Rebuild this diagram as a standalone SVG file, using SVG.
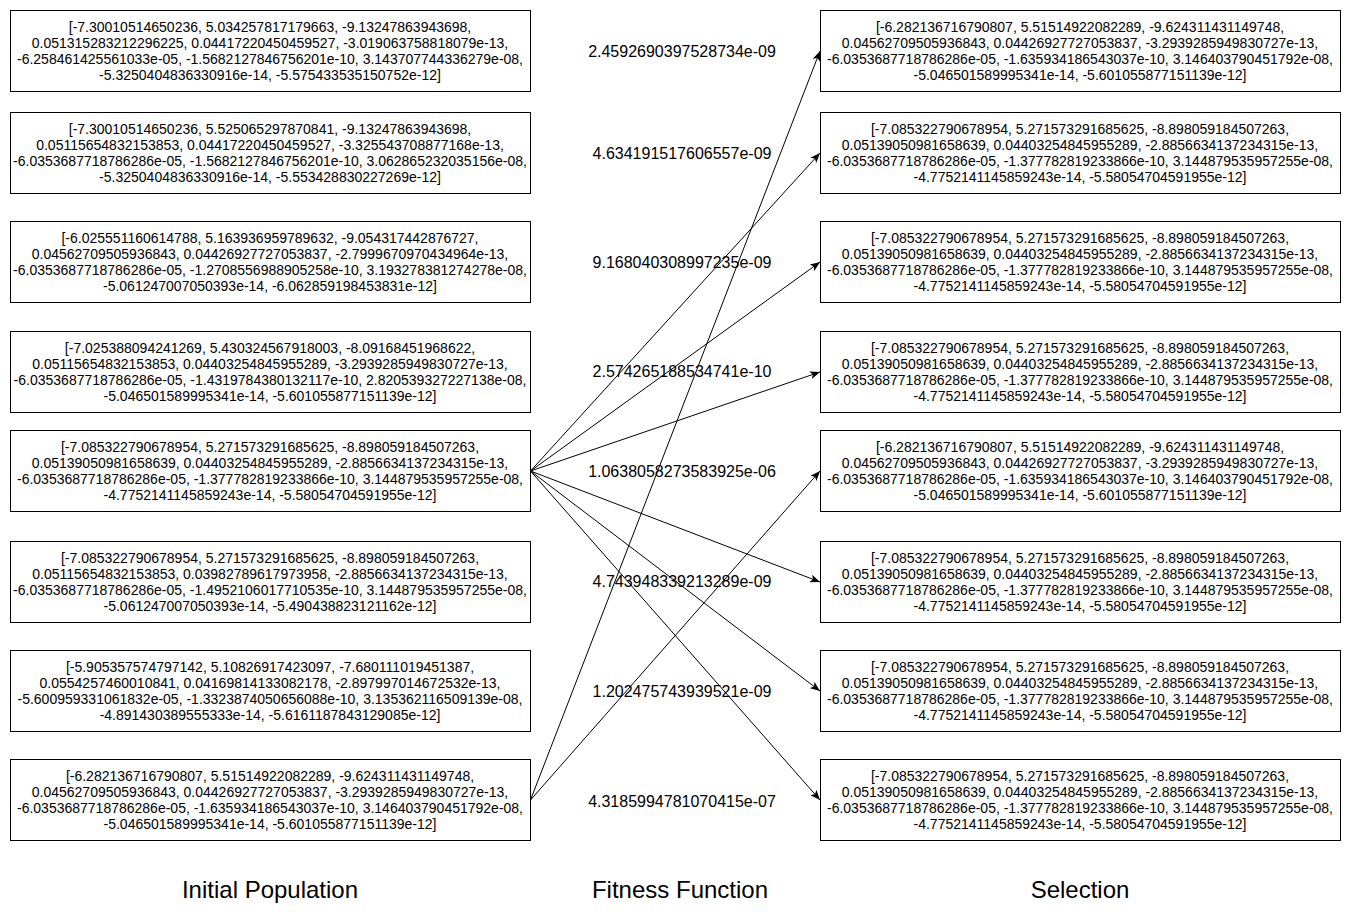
<svg xmlns="http://www.w3.org/2000/svg" width="1351" height="915" viewBox="0 0 1351 915">
<style>
.box{fill:#fff;stroke:#000;stroke-width:1}
.t{font-family:"Liberation Sans",Arial,sans-serif;font-size:14px;fill:#000;text-anchor:middle}
.f{font-family:"Liberation Sans",Arial,sans-serif;font-size:16px;fill:#000;text-anchor:middle}
.h{font-family:"Liberation Sans",Arial,sans-serif;font-size:24px;fill:#000;text-anchor:middle}
.c{stroke:#000;stroke-width:1;fill:none;marker-end:url(#a)}
</style>
<defs>
<marker id="a" viewBox="0 0 10 8" refX="10" refY="4" markerWidth="10" markerHeight="8" markerUnits="userSpaceOnUse" orient="auto">
<path d="M0,0 L10,4 L0,8 L2.5,4 z" fill="#000"/>
</marker>
</defs>
<rect width="1351" height="915" fill="#fff"/>

<g id="left1"><rect class="box" x="10.5" y="10.5" width="520" height="81"/>
<text class="t" x="270" y="32">[-7.30010514650236, 5.034257817179663, -9.13247863943698,</text>
<text class="t" x="270" y="48">0.051315283212296225, 0.04417220450459527, -3.019063758818079e-13,</text>
<text class="t" x="270" y="64">-6.258461425561033e-05, -1.5682127846756201e-10, 3.143707744336279e-08,</text>
<text class="t" x="270" y="80">-5.3250404836330916e-14, -5.575433535150752e-12]</text></g>

<g id="left2"><rect class="box" x="10.5" y="112.5" width="520" height="81"/>
<text class="t" x="270" y="134">[-7.30010514650236, 5.525065297870841, -9.13247863943698,</text>
<text class="t" x="270" y="150">0.05115654832153853, 0.04417220450459527, -3.325543708877168e-13,</text>
<text class="t" x="270" y="166">-6.0353687718786286e-05, -1.5682127846756201e-10, 3.062865232035156e-08,</text>
<text class="t" x="270" y="182">-5.3250404836330916e-14, -5.553428830227269e-12]</text></g>

<g id="left3"><rect class="box" x="10.5" y="221.5" width="520" height="81"/>
<text class="t" x="270" y="243">[-6.025551160614788, 5.163936959789632, -9.054317442876727,</text>
<text class="t" x="270" y="259">0.04562709505936843, 0.04426927727053837, -2.7999670970434964e-13,</text>
<text class="t" x="270" y="275">-6.0353687718786286e-05, -1.2708556988905258e-10, 3.193278381274278e-08,</text>
<text class="t" x="270" y="291">-5.061247007050393e-14, -6.062859198453831e-12]</text></g>

<g id="left4"><rect class="box" x="10.5" y="331.5" width="520" height="81"/>
<text class="t" x="270" y="353">[-7.025388094241269, 5.430324567918003, -8.09168451968622,</text>
<text class="t" x="270" y="369">0.05115654832153853, 0.04403254845955289, -3.2939285949830727e-13,</text>
<text class="t" x="270" y="385">-6.0353687718786286e-05, -1.4319784380132117e-10, 2.820539327227138e-08,</text>
<text class="t" x="270" y="401">-5.046501589995341e-14, -5.601055877151139e-12]</text></g>

<g id="left5"><rect class="box" x="10.5" y="430.5" width="520" height="81"/>
<text class="t" x="270" y="452">[-7.085322790678954, 5.271573291685625, -8.898059184507263,</text>
<text class="t" x="270" y="468">0.05139050981658639, 0.04403254845955289, -2.8856634137234315e-13,</text>
<text class="t" x="270" y="484">-6.0353687718786286e-05, -1.377782819233866e-10, 3.144879535957255e-08,</text>
<text class="t" x="270" y="500">-4.7752141145859243e-14, -5.58054704591955e-12]</text></g>

<g id="left6"><rect class="box" x="10.5" y="541.5" width="520" height="81"/>
<text class="t" x="270" y="563">[-7.085322790678954, 5.271573291685625, -8.898059184507263,</text>
<text class="t" x="270" y="579">0.05115654832153853, 0.03982789617973958, -2.8856634137234315e-13,</text>
<text class="t" x="270" y="595">-6.0353687718786286e-05, -1.4952106017710535e-10, 3.144879535957255e-08,</text>
<text class="t" x="270" y="611">-5.061247007050393e-14, -5.490438823121162e-12]</text></g>

<g id="left7"><rect class="box" x="10.5" y="650.5" width="520" height="81"/>
<text class="t" x="270" y="672">[-5.905357574797142, 5.10826917423097, -7.680111019451387,</text>
<text class="t" x="270" y="688">0.0554257460010841, 0.04169814133082178, -2.897997014672532e-13,</text>
<text class="t" x="270" y="704">-5.600959331061832e-05, -1.3323874050656088e-10, 3.135362116509139e-08,</text>
<text class="t" x="270" y="720">-4.891430389555333e-14, -5.6161187843129085e-12]</text></g>

<g id="left8"><rect class="box" x="10.5" y="759.5" width="520" height="81"/>
<text class="t" x="270" y="781">[-6.282136716790807, 5.51514922082289, -9.624311431149748,</text>
<text class="t" x="270" y="797">0.04562709505936843, 0.04426927727053837, -3.2939285949830727e-13,</text>
<text class="t" x="270" y="813">-6.0353687718786286e-05, -1.635934186543037e-10, 3.146403790451792e-08,</text>
<text class="t" x="270" y="829">-5.046501589995341e-14, -5.601055877151139e-12]</text></g>

<g id="right1"><rect class="box" x="820.5" y="10.5" width="520" height="81"/>
<text class="t" x="1080" y="32">[-6.282136716790807, 5.51514922082289, -9.624311431149748,</text>
<text class="t" x="1080" y="48">0.04562709505936843, 0.04426927727053837, -3.2939285949830727e-13,</text>
<text class="t" x="1080" y="64">-6.0353687718786286e-05, -1.635934186543037e-10, 3.146403790451792e-08,</text>
<text class="t" x="1080" y="80">-5.046501589995341e-14, -5.601055877151139e-12]</text></g>

<g id="right2"><rect class="box" x="820.5" y="112.5" width="520" height="81"/>
<text class="t" x="1080" y="134">[-7.085322790678954, 5.271573291685625, -8.898059184507263,</text>
<text class="t" x="1080" y="150">0.05139050981658639, 0.04403254845955289, -2.8856634137234315e-13,</text>
<text class="t" x="1080" y="166">-6.0353687718786286e-05, -1.377782819233866e-10, 3.144879535957255e-08,</text>
<text class="t" x="1080" y="182">-4.7752141145859243e-14, -5.58054704591955e-12]</text></g>

<g id="right3"><rect class="box" x="820.5" y="221.5" width="520" height="81"/>
<text class="t" x="1080" y="243">[-7.085322790678954, 5.271573291685625, -8.898059184507263,</text>
<text class="t" x="1080" y="259">0.05139050981658639, 0.04403254845955289, -2.8856634137234315e-13,</text>
<text class="t" x="1080" y="275">-6.0353687718786286e-05, -1.377782819233866e-10, 3.144879535957255e-08,</text>
<text class="t" x="1080" y="291">-4.7752141145859243e-14, -5.58054704591955e-12]</text></g>

<g id="right4"><rect class="box" x="820.5" y="331.5" width="520" height="81"/>
<text class="t" x="1080" y="353">[-7.085322790678954, 5.271573291685625, -8.898059184507263,</text>
<text class="t" x="1080" y="369">0.05139050981658639, 0.04403254845955289, -2.8856634137234315e-13,</text>
<text class="t" x="1080" y="385">-6.0353687718786286e-05, -1.377782819233866e-10, 3.144879535957255e-08,</text>
<text class="t" x="1080" y="401">-4.7752141145859243e-14, -5.58054704591955e-12]</text></g>

<g id="right5"><rect class="box" x="820.5" y="430.5" width="520" height="81"/>
<text class="t" x="1080" y="452">[-6.282136716790807, 5.51514922082289, -9.624311431149748,</text>
<text class="t" x="1080" y="468">0.04562709505936843, 0.04426927727053837, -3.2939285949830727e-13,</text>
<text class="t" x="1080" y="484">-6.0353687718786286e-05, -1.635934186543037e-10, 3.146403790451792e-08,</text>
<text class="t" x="1080" y="500">-5.046501589995341e-14, -5.601055877151139e-12]</text></g>

<g id="right6"><rect class="box" x="820.5" y="541.5" width="520" height="81"/>
<text class="t" x="1080" y="563">[-7.085322790678954, 5.271573291685625, -8.898059184507263,</text>
<text class="t" x="1080" y="579">0.05139050981658639, 0.04403254845955289, -2.8856634137234315e-13,</text>
<text class="t" x="1080" y="595">-6.0353687718786286e-05, -1.377782819233866e-10, 3.144879535957255e-08,</text>
<text class="t" x="1080" y="611">-4.7752141145859243e-14, -5.58054704591955e-12]</text></g>

<g id="right7"><rect class="box" x="820.5" y="650.5" width="520" height="81"/>
<text class="t" x="1080" y="672">[-7.085322790678954, 5.271573291685625, -8.898059184507263,</text>
<text class="t" x="1080" y="688">0.05139050981658639, 0.04403254845955289, -2.8856634137234315e-13,</text>
<text class="t" x="1080" y="704">-6.0353687718786286e-05, -1.377782819233866e-10, 3.144879535957255e-08,</text>
<text class="t" x="1080" y="720">-4.7752141145859243e-14, -5.58054704591955e-12]</text></g>

<g id="right8"><rect class="box" x="820.5" y="759.5" width="520" height="81"/>
<text class="t" x="1080" y="781">[-7.085322790678954, 5.271573291685625, -8.898059184507263,</text>
<text class="t" x="1080" y="797">0.05139050981658639, 0.04403254845955289, -2.8856634137234315e-13,</text>
<text class="t" x="1080" y="813">-6.0353687718786286e-05, -1.377782819233866e-10, 3.144879535957255e-08,</text>
<text class="t" x="1080" y="829">-4.7752141145859243e-14, -5.58054704591955e-12]</text></g>

<g id="fitness">
<text class="f" x="682" y="57">2.4592690397528734e-09</text>
<text class="f" x="682" y="159">4.634191517606557e-09</text>
<text class="f" x="682" y="268">9.168040308997235e-09</text>
<text class="f" x="682" y="377">2.574265188534741e-10</text>
<text class="f" x="682" y="477">1.0638058273583925e-06</text>
<text class="f" x="682" y="587">4.743948339213289e-09</text>
<text class="f" x="682" y="697">1.202475743939521e-09</text>
<text class="f" x="682" y="807">4.3185994781070415e-07</text>
</g>

<g id="connectors">
<line class="c" x1="530.5" y1="800" x2="820" y2="51"/>
<line class="c" x1="530.5" y1="471" x2="820" y2="153"/>
<line class="c" x1="530.5" y1="471" x2="820" y2="262"/>
<line class="c" x1="530.5" y1="471" x2="820" y2="372"/>
<line class="c" x1="530.5" y1="800" x2="820" y2="471"/>
<line class="c" x1="530.5" y1="471" x2="820" y2="582"/>
<line class="c" x1="530.5" y1="471" x2="820" y2="691"/>
<line class="c" x1="530.5" y1="471" x2="820" y2="800"/>
</g>

<g id="headers">
<text class="h" x="270" y="898">Initial Population</text>
<text class="h" x="680" y="898">Fitness Function</text>
<text class="h" x="1080" y="898">Selection</text>
</g>
</svg>
